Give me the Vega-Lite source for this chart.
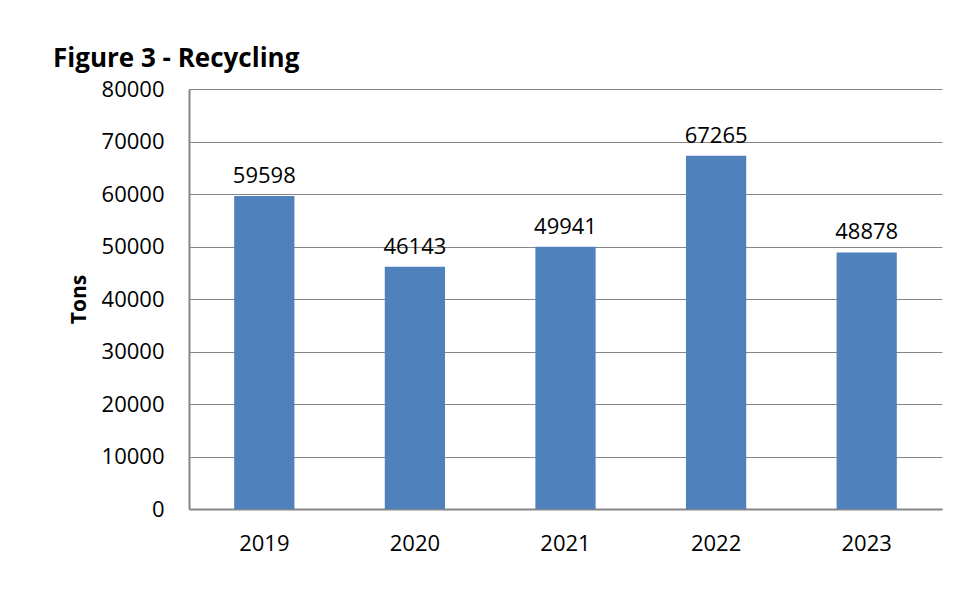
{
  "$schema": "https://vega.github.io/schema/vega-lite/v6.json",
  "width": 753,
  "height": 420,
  "autosize": {"type": "none"},
  "padding": {"left": 189, "top": 89, "right": 14, "bottom": 105},
  "background": "white",
  "title": {
    "text": "Figure 3 - Recycling",
    "anchor": "start",
    "frame": "group",
    "dx": -136,
    "offset": 6,
    "font": "Open Sans",
    "fontSize": 26,
    "fontWeight": "bold",
    "color": "black"
  },
  "data": {
    "values": [
      {"year": "2019", "tons": 59598},
      {"year": "2020", "tons": 46143},
      {"year": "2021", "tons": 49941},
      {"year": "2022", "tons": 67265},
      {"year": "2023", "tons": 48878}
    ]
  },
  "config": {
    "view": {"stroke": null},
    "font": "Open Sans"
  },
  "encoding": {
    "x": {
      "field": "year",
      "type": "nominal",
      "scale": {"paddingInner": 0.6, "paddingOuter": 0.3},
      "axis": {
        "title": null,
        "labelAngle": 0,
        "ticks": false,
        "labelPadding": 24,
        "labelFont": "Open Sans",
        "labelFontSize": 22,
        "labelColor": "black",
        "domainColor": "#868686",
        "domainWidth": 2
      }
    },
    "y": {
      "field": "tons",
      "type": "quantitative",
      "scale": {"domain": [0, 80000], "nice": false},
      "axis": {
        "title": "Tons",
        "titleFont": "Open Sans",
        "titleFontSize": 21,
        "titleFontWeight": "bold",
        "titleColor": "black",
        "titlePadding": 12,
        "values": [0, 10000, 20000, 30000, 40000, 50000, 60000, 70000, 80000],
        "format": "d",
        "ticks": false,
        "labelPadding": 25,
        "labelFont": "Open Sans",
        "labelFontSize": 22,
        "labelColor": "black",
        "domainColor": "#868686",
        "domainWidth": 2,
        "gridColor": "#868686",
        "gridWidth": 1.2
      }
    }
  },
  "layer": [
    {"mark": {"type": "bar", "color": "#4f81bd"}},
    {
      "mark": {"type": "text", "baseline": "alphabetic", "dy": -13, "fontSize": 22, "font": "Open Sans", "color": "black"},
      "encoding": {"text": {"field": "tons", "type": "quantitative", "format": "d"}}
    }
  ]
}
